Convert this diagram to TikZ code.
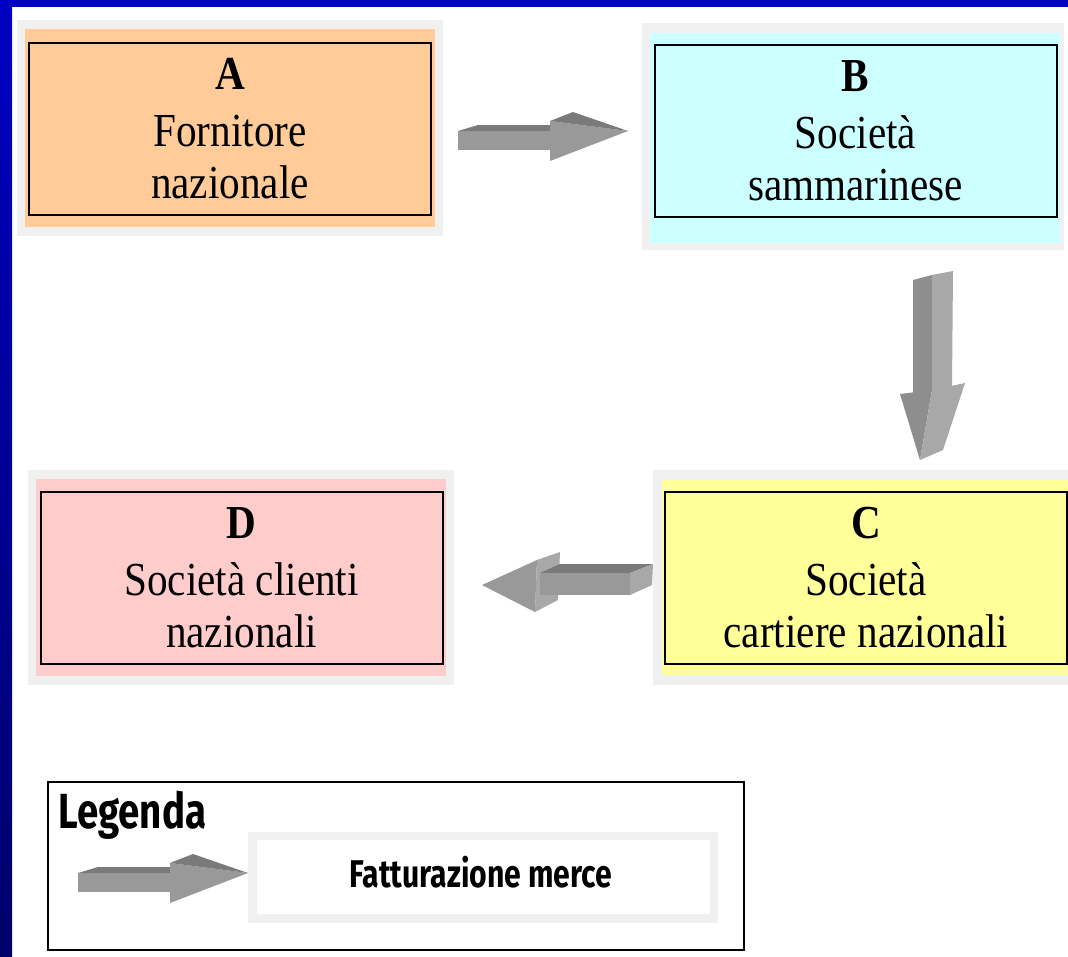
\documentclass[tikz,border=0pt]{standalone}
\usepackage{fontspec}
\newfontfamily\boxfont[FakeStretch=0.87]{Liberation Serif}
\newfontfamily\legfont[FakeStretch=0.78]{Fira Sans}
\definecolor{frameg}{RGB}{240,240,240}
\definecolor{orangef}{RGB}{255,204,153}
\definecolor{cyanf}{RGB}{204,255,255}
\definecolor{yellowf}{RGB}{255,255,153}
\definecolor{pinkf}{RGB}{255,204,204}
\definecolor{arrlight}{RGB}{153,153,153}
\definecolor{arrdark}{RGB}{122,122,122}
\definecolor{arrside}{RGB}{168,168,168}
\definecolor{arrmid}{RGB}{142,142,142}
\definecolor{bluetop}{RGB}{0,0,195}
\definecolor{bluebot}{RGB}{0,0,105}
\tikzset{
  entity/.style={draw=black, line width=1.5pt, inner sep=0pt, align=center,
    minimum width=301.5pt, minimum height=129pt,
    font={\boxfont\fontsize{35.5}{39}\selectfont}},
  rarrow/.pic={
    \fill[arrlight] (0,0) -- (94,0) -- (94,19) -- (0,19) -- cycle;
    \fill[arrdark] (0,0) -- (20,-6) -- (96,-6) -- (94,0) -- cycle;
    \fill[arrlight] (92,-10) -- (170,0) -- (92,30) -- cycle;
    \fill[arrdark] (92,-10) -- (115,-19) -- (170,0) -- cycle;
  }
}
\begin{document}
\begin{tikzpicture}[x=0.75pt,y=-0.75pt]
\useasboundingbox (0,0) rectangle (1068,957);
\fill[white] (0,0) rectangle (1068,957);
% blue border
\shade[top color=bluetop, bottom color=bluebot] (0,0) rectangle (12,957);
\fill[bluetop] (0,0) rectangle (1068,7);

% box A
\fill[frameg] (17,20) rectangle (443,236);
\fill[orangef] (25,29) rectangle (435,227);
\node[entity] (A) at (230,128.5) {\textbf{A}\\[3.75pt]Fornitore\\nazionale};

% box B
\fill[frameg] (642,23) rectangle (1064,250);
\fill[cyanf] (650,33) rectangle (1060,243);
\node[entity] (B) at (855.5,130.5) {\textbf{B}\\[3.75pt]Società\\sammarinese};

% box C
\fill[frameg] (653,470) rectangle (1068,685);
\fill[yellowf] (662,480) rectangle (1068,675);
\node[entity] (C) at (866,577.5) {\textbf{C}\\[3.75pt]Società\\cartiere nazionali};

% box D
\fill[frameg] (28,470) rectangle (454,685);
\fill[pinkf] (36,479) rectangle (446,676);
\node[entity] (D) at (241.5,577.5) {\textbf{D}\\[3.75pt]Società clienti\\nazionali};

% arrow A -> B
\coordinate (ab) at (458,131);
\pic at (ab) {rarrow};

% arrow B -> C (down)
\coordinate (bc) at (913,280);
\fill[arrmid] (bc) -- (932,275) -- (932,392) -- (913,397) -- cycle;
\fill[arrside] (932,275) -- (953,271) -- (952,386) -- (932,392) -- cycle;
\fill[arrmid] (900,394) -- (932,390) -- (920,460) -- cycle;
\fill[arrside] (932,390) -- (965,383) -- (943,450) -- (920,460) -- cycle;

% arrow C -> D (left)
\coordinate (cd) at (653,564);
\fill[arrside] (537,560) -- (560,552) -- (558,600) -- (535,612) -- cycle;
\fill[arrdark] (540,573) -- (560,564) -- (cd) -- (630,573) -- cycle;
\fill[arrlight] (540,573) -- (630,573) -- (630,595) -- (540,595) -- cycle;
\fill[arrside] (630,573) -- (cd) -- (652,585) -- (630,595) -- cycle;
\fill[arrlight] (482,585) -- (537,560) -- (535,612) -- cycle;

% legend
\node[draw=black, line width=1.5pt, minimum width=522pt, minimum height=126pt, inner sep=0pt] (leg) at (396,866) {};
\node[anchor=base west, inner sep=0pt, font={\legfont\bfseries\fontsize{37}{40}\selectfont}] (legtitle) at (58,828) {Legenda};
\coordinate (la) at (78,873);
\pic at (la) {rarrow};
\fill[frameg] (248,832) rectangle (718,923);
\fill[white] (257,840) rectangle (710,914);
\node[anchor=base, inner sep=0pt, font={\legfont\bfseries\fontsize{29}{32}\selectfont}] (fm) at (481,887) {Fatturazione merce};
\end{tikzpicture}
\end{document}
